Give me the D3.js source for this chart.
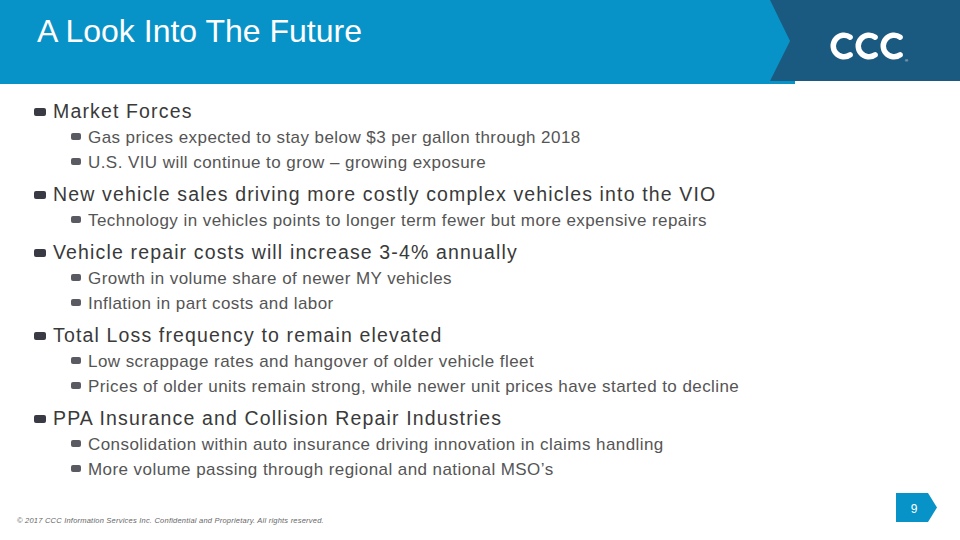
<!DOCTYPE html>
<html>
<head>
<meta charset="utf-8">
<script src="https://cdn.jsdelivr.net/npm/d3@7"></script>
<style>
  body { margin: 0; background: #fff; }
  svg { display: block; font-family: "Liberation Sans", Arial, sans-serif; }
</style>
</head>
<body>
<script>
// slide content
const slideTitle = 'A Look Into The Future';
const bulletTexts = [
  'Market Forces',
  'Gas prices expected to stay below $3 per gallon through 2018',
  'U.S. VIU will continue to grow \u2013 growing exposure',
  'New vehicle sales driving more costly complex vehicles into the VIO',
  'Technology in vehicles points to longer term fewer but more expensive repairs',
  'Vehicle repair costs will increase 3-4% annually',
  'Growth in volume share of newer MY vehicles',
  'Inflation in part costs and labor',
  'Total Loss frequency to remain elevated',
  'Low scrappage rates and hangover of older vehicle fleet',
  'Prices of older units remain strong, while newer unit prices have started to decline',
  'PPA Insurance and Collision Repair Industries',
  'Consolidation within auto insurance driving innovation in claims handling',
  'More volume passing through regional and national MSO\u2019s'
];
const bulletLevels = [1, 2, 2, 1, 2, 1, 2, 2, 1, 2, 2, 1, 2, 2];
const footerText = '\u00a9 2017 CCC Information Services Inc. Confidential and Proprietary. All rights reserved.';
const pageNumber = '9';
const logoRings = ['c1', 'c2', 'c3'];

const W = 960, H = 540;
const svg = d3.select('body').append('svg').attr('width', W).attr('height', H);

// header band
svg.append('rect').attr('x', 0).attr('y', 0).attr('width', 795).attr('height', 84).attr('fill', '#0893c8');
svg.append('path')
  .attr('d', 'M770,0 L960,0 L960,81 L770,81 L790,41 Z')
  .attr('fill', '#1b5a80');

svg.append('text')
  .attr('x', 37).attr('y', 42)
  .attr('fill', '#fff')
  .attr('font-size', 32)
  .text(slideTitle);

// logo: three interlocking C's
const ringX = d3.scalePoint().domain(logoRings).range([844, 894]);
const ringArc = d3.arc()
  .innerRadius(8).outerRadius(13.5)
  .startAngle(Math.PI / 2 + 0.7)
  .endAngle(Math.PI / 2 + 2 * Math.PI - 0.7)
  .cornerRadius(2.7);
svg.selectAll('.ring').data(logoRings).join('path')
  .attr('class', 'ring')
  .attr('transform', d => `translate(${ringX(d)},46)`)
  .attr('d', ringArc())
  .attr('fill', '#fff');
svg.append('text').attr('x', 905).attr('y', 62).attr('font-size', 4).attr('fill', '#fff').text('\u00ae');

// bullets: baselines stack with gaps depending on level change
const gap = (prev, cur) => (cur === 2 ? 25 : 33);
const baselines = [];
bulletLevels.forEach((lv, i) => {
  baselines.push(i === 0 ? 118 : baselines[i - 1] + gap(bulletLevels[i - 1], lv));
});
const y = d3.scaleLinear().domain([0, 1]).range([0, 1]);

const textX = d3.scaleOrdinal().domain([1, 2]).range([53, 88]);
const markX = d3.scaleOrdinal().domain([1, 2]).range([34, 71]);
const markW = d3.scaleOrdinal().domain([1, 2]).range([12, 10]);
const markH = d3.scaleOrdinal().domain([1, 2]).range([8, 7]);
const fontSize = d3.scaleOrdinal().domain([1, 2]).range([19.5, 17]);
const spacing = d3.scaleOrdinal().domain([1, 2]).range([1.15, 0.43]);
const textCol = d3.scaleOrdinal().domain([1, 2]).range(['#3a3a3a', '#555555']);
const markCol = d3.scaleOrdinal().domain([1, 2]).range(['#3a3a44', '#5a5a62']);

const rows = bulletTexts.map((t, i) => ({ text: t, level: bulletLevels[i], base: baselines[i] }));

const g = svg.append('g');
g.selectAll('.mark').data(rows).join('rect')
  .attr('class', 'mark')
  .attr('x', d => markX(d.level))
  .attr('y', d => y(d.base) - 10)
  .attr('width', d => markW(d.level))
  .attr('height', d => markH(d.level))
  .attr('rx', 2)
  .attr('fill', d => markCol(d.level));

g.selectAll('.bullet').data(rows).join('text')
  .attr('class', 'bullet')
  .attr('x', d => textX(d.level))
  .attr('y', d => y(d.base))
  .attr('font-size', d => fontSize(d.level))
  .attr('letter-spacing', d => spacing(d.level))
  .attr('fill', d => textCol(d.level))
  .text(d => d.text);

// footer
svg.append('text')
  .attr('x', 17).attr('y', 523)
  .attr('font-size', 7.5)
  .attr('font-style', 'italic')
  .attr('letter-spacing', 0.22)
  .attr('fill', '#666')
  .text(footerText);

// page number tag
svg.append('path')
  .attr('d', 'M896,493 L928,493 L937,507.5 L928,522 L896,522 Z')
  .attr('fill', '#0893c8');
svg.append('text')
  .attr('x', 914).attr('y', 513)
  .attr('text-anchor', 'middle')
  .attr('font-size', 12)
  .attr('fill', '#fff')
  .text(pageNumber);
</script>
</body>
</html>
